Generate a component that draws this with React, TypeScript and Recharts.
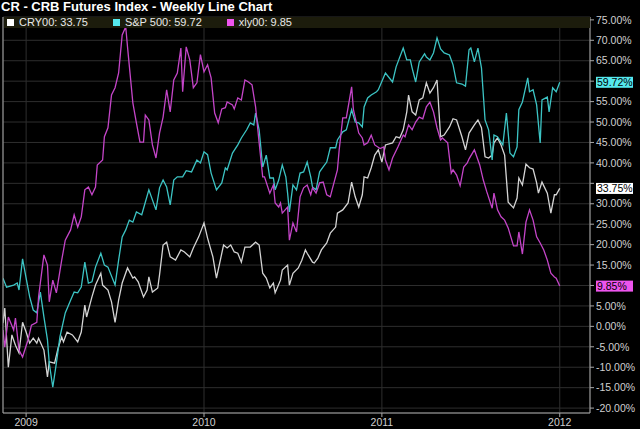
import { CartesianGrid, Line, LineChart, ReferenceLine, XAxis, YAxis } from "recharts";

const chartTitle = "CR - CRB Futures Index - Weekly Line Chart";

// [year fraction, % change]
const cryPoints: [number, number][] = [
  [2008.87, 0.8], [2008.88, 4.5], [2008.9, -10], [2008.92, -2.1], [2008.94, -4.6], [2008.96, -6.5],
  [2008.98, 1.0], [2009.0, -1.4], [2009.02, -4.1], [2009.04, -2.9], [2009.06, -4.1], [2009.07, -2.9],
  [2009.1, -5.8], [2009.12, -12.4], [2009.13, -8.7], [2009.16, -9.0], [2009.18, -5.3], [2009.2, -2.6],
  [2009.21, -3.8], [2009.23, -1.4], [2009.26, -2.1], [2009.29, -3.8], [2009.31, -1.4], [2009.33, 5.2],
  [2009.34, 2.3], [2009.37, 7.2], [2009.39, 10.1], [2009.42, 13.0], [2009.43, 10.1], [2009.46, 8.9],
  [2009.48, 6.0], [2009.5, 1.0], [2009.52, 6.4], [2009.54, 10.6], [2009.57, 14.3], [2009.6, 11.8],
  [2009.61, 12.1], [2009.63, 10.9], [2009.66, 7.2], [2009.68, 8.9], [2009.69, 12.1], [2009.71, 8.4],
  [2009.74, 9.4], [2009.75, 12.6], [2009.77, 19.9], [2009.79, 20.6], [2009.81, 17.0], [2009.84, 16.2],
  [2009.87, 18.7], [2009.89, 18.2], [2009.92, 17.0], [2009.94, 19.2], [2009.97, 21.9], [2010.0, 25.3],
  [2010.02, 21.6], [2010.05, 17.0], [2010.07, 11.8], [2010.11, 19.9], [2010.13, 19.2], [2010.15, 19.9],
  [2010.17, 18.2], [2010.19, 17.9], [2010.21, 15.7], [2010.23, 19.4], [2010.26, 19.4], [2010.29, 20.6],
  [2010.31, 19.9], [2010.33, 13.0], [2010.35, 11.8], [2010.37, 9.4], [2010.39, 10.6], [2010.4, 8.2],
  [2010.43, 11.3], [2010.44, 13.8], [2010.47, 15.0], [2010.48, 10.1], [2010.5, 13.0], [2010.53, 14.3],
  [2010.55, 16.2], [2010.57, 18.7], [2010.58, 17.9], [2010.61, 15.7], [2010.62, 15.5], [2010.64, 16.7],
  [2010.66, 18.7], [2010.69, 20.4], [2010.71, 22.8], [2010.74, 24.3], [2010.75, 27.7], [2010.78, 28.5],
  [2010.81, 30.2], [2010.83, 35.3], [2010.85, 31.7], [2010.87, 29.2], [2010.89, 32.2], [2010.9, 36.6],
  [2010.92, 36.3], [2010.94, 38.8], [2010.96, 41.9], [2010.98, 43.2], [2011.0, 40.2], [2011.02, 44.4],
  [2011.06, 44.9], [2011.08, 46.4], [2011.1, 46.1], [2011.12, 48.1], [2011.14, 52.5], [2011.15, 56.6],
  [2011.17, 52.5], [2011.19, 51.7], [2011.21, 55.4], [2011.23, 55.9], [2011.25, 59.6], [2011.27, 57.1],
  [2011.29, 58.4], [2011.31, 60.3], [2011.33, 46.4], [2011.35, 46.8], [2011.38, 48.8], [2011.4, 50.8],
  [2011.42, 50.5], [2011.45, 46.4], [2011.47, 43.2], [2011.49, 47.3], [2011.52, 49.3], [2011.54, 50.5],
  [2011.56, 48.6], [2011.58, 41.5], [2011.6, 41.2], [2011.62, 41.9], [2011.63, 44.9], [2011.65, 46.1],
  [2011.67, 44.4], [2011.69, 41.9], [2011.71, 30.4], [2011.74, 29.0], [2011.76, 31.4], [2011.77, 36.3],
  [2011.79, 34.6], [2011.81, 39.7], [2011.83, 38.8], [2011.85, 38.5], [2011.87, 35.1], [2011.88, 32.6],
  [2011.9, 35.3], [2011.93, 32.6], [2011.95, 27.7], [2011.97, 32.2], [2011.98, 32.2], [2012.0, 33.75],
];

const spxPoints: [number, number][] = [
  [2008.87, 11.8], [2008.89, 9.6], [2008.93, 10.1], [2008.95, 10.6], [2008.96, 8.9], [2008.98, 16.5],
  [2009.0, 11.8], [2009.02, 7.2], [2009.04, 4.0], [2009.06, 3.3], [2009.08, 8.4], [2009.1, 2.3],
  [2009.12, -3.3], [2009.13, -9.0], [2009.15, -14.9], [2009.17, -9.0], [2009.19, -2.6], [2009.22, 3.3],
  [2009.25, 6.4], [2009.27, 8.4], [2009.29, 8.2], [2009.31, 9.6], [2009.33, 15.7], [2009.35, 10.6],
  [2009.37, 10.9], [2009.39, 14.5], [2009.42, 17.9], [2009.44, 15.0], [2009.46, 14.5], [2009.5, 10.1],
  [2009.52, 16.2], [2009.54, 21.9], [2009.56, 23.6], [2009.58, 26.0], [2009.6, 25.5], [2009.62, 28.0],
  [2009.65, 27.3], [2009.69, 33.4], [2009.73, 28.5], [2009.75, 33.9], [2009.77, 35.8], [2009.79, 34.1],
  [2009.81, 29.7], [2009.83, 35.8], [2009.85, 36.6], [2009.88, 36.6], [2009.9, 38.1], [2009.93, 37.8],
  [2009.96, 40.7], [2009.98, 40.0], [2010.0, 42.7], [2010.02, 42.0], [2010.04, 37.5], [2010.07, 33.4],
  [2010.1, 35.1], [2010.12, 38.8], [2010.13, 38.3], [2010.16, 42.4], [2010.19, 44.4], [2010.21, 46.1],
  [2010.24, 48.1], [2010.26, 49.8], [2010.28, 49.3], [2010.29, 52.2], [2010.31, 48.1], [2010.33, 39.0],
  [2010.35, 41.9], [2010.37, 36.3], [2010.39, 36.3], [2010.4, 33.4], [2010.42, 35.8], [2010.44, 39.5],
  [2010.46, 36.6], [2010.47, 32.6], [2010.48, 28.0], [2010.5, 34.6], [2010.52, 33.4], [2010.54, 37.5],
  [2010.56, 37.8], [2010.58, 40.2], [2010.6, 36.6], [2010.61, 34.1], [2010.63, 33.4], [2010.65, 37.8],
  [2010.67, 39.0], [2010.69, 40.2], [2010.71, 43.7], [2010.74, 43.7], [2010.75, 45.6], [2010.78, 47.6],
  [2010.8, 48.1], [2010.83, 53.0], [2010.85, 50.0], [2010.87, 49.8], [2010.89, 48.8], [2010.9, 53.7],
  [2010.92, 55.9], [2010.94, 56.6], [2010.97, 57.4], [2010.98, 57.9], [2011.02, 62.0], [2011.06, 59.8],
  [2011.08, 63.5], [2011.12, 68.1], [2011.14, 65.2], [2011.16, 65.2], [2011.17, 63.2], [2011.19, 59.8],
  [2011.21, 64.7], [2011.24, 66.7], [2011.25, 65.9], [2011.27, 65.2], [2011.29, 66.9], [2011.31, 70.6],
  [2011.33, 67.9], [2011.35, 66.9], [2011.38, 66.4], [2011.4, 64.0], [2011.42, 59.6], [2011.45, 59.3],
  [2011.47, 58.8], [2011.49, 67.7], [2011.5, 68.1], [2011.52, 64.7], [2011.54, 68.1], [2011.56, 63.2],
  [2011.58, 50.5], [2011.6, 48.1], [2011.62, 40.7], [2011.63, 46.8], [2011.65, 46.4], [2011.68, 44.4],
  [2011.7, 52.2], [2011.72, 42.4], [2011.74, 41.5], [2011.76, 43.9], [2011.77, 53.0], [2011.79, 54.9],
  [2011.82, 60.8], [2011.83, 57.4], [2011.85, 57.9], [2011.87, 54.2], [2011.89, 44.9], [2011.9, 55.4],
  [2011.93, 56.1], [2011.94, 52.5], [2011.96, 58.4], [2011.98, 57.4], [2012.0, 59.72],
];

const xlyPoints: [number, number][] = [
  [2008.87, -0.9], [2008.88, -5.1], [2008.9, 2.3], [2008.93, -0.9], [2008.94, 2.0], [2008.96, -5.8],
  [2008.98, -7.5], [2009.01, -3.4], [2009.03, 0.3], [2009.06, 1.0], [2009.07, 7.2], [2009.1, 17.5],
  [2009.12, 15.0], [2009.13, 6.0], [2009.15, 11.3], [2009.17, 8.2], [2009.2, 16.2], [2009.22, 21.1],
  [2009.25, 23.6], [2009.27, 27.3], [2009.29, 24.3], [2009.31, 26.8], [2009.33, 33.4], [2009.35, 34.1],
  [2009.37, 32.2], [2009.39, 34.1], [2009.4, 39.5], [2009.43, 40.7], [2009.44, 46.4], [2009.46, 48.6],
  [2009.48, 56.6], [2009.5, 58.4], [2009.52, 62.0], [2009.54, 71.3], [2009.56, 73.3], [2009.57, 68.4],
  [2009.6, 54.7], [2009.62, 49.8], [2009.64, 45.1], [2009.66, 45.1], [2009.67, 51.7], [2009.69, 50.5],
  [2009.71, 44.4], [2009.73, 41.2], [2009.75, 47.3], [2009.77, 51.2], [2009.79, 57.9], [2009.81, 52.5],
  [2009.83, 60.3], [2009.85, 62.0], [2009.87, 68.1], [2009.88, 57.4], [2009.9, 68.4], [2009.92, 65.2],
  [2009.94, 58.4], [2009.96, 59.6], [2009.98, 66.5], [2010.0, 62.3], [2010.02, 64.0], [2010.04, 60.8],
  [2010.06, 52.2], [2010.08, 49.8], [2010.1, 53.2], [2010.12, 53.5], [2010.13, 54.9], [2010.16, 54.2],
  [2010.17, 53.2], [2010.19, 55.9], [2010.21, 55.4], [2010.23, 60.3], [2010.25, 59.8], [2010.27, 59.1],
  [2010.29, 53.7], [2010.31, 44.9], [2010.33, 36.6], [2010.34, 36.6], [2010.37, 32.6], [2010.39, 34.6],
  [2010.4, 30.2], [2010.42, 29.2], [2010.43, 30.2], [2010.44, 27.7], [2010.47, 29.2], [2010.48, 21.1],
  [2010.5, 25.3], [2010.52, 23.1], [2010.54, 31.7], [2010.56, 33.9], [2010.58, 34.6], [2010.6, 32.2],
  [2010.61, 33.9], [2010.63, 32.6], [2010.65, 35.1], [2010.67, 35.3], [2010.69, 32.2], [2010.71, 31.7],
  [2010.72, 33.4], [2010.75, 38.3], [2010.76, 43.2], [2010.78, 51.0], [2010.8, 51.0], [2010.83, 58.6],
  [2010.84, 53.0], [2010.87, 47.3], [2010.89, 46.1], [2010.9, 44.4], [2010.92, 44.9], [2010.94, 46.8],
  [2010.96, 44.4], [2010.99, 43.5], [2011.01, 43.9], [2011.02, 40.7], [2011.04, 38.3], [2011.06, 41.2],
  [2011.09, 43.9], [2011.12, 46.8], [2011.13, 46.4], [2011.15, 49.3], [2011.17, 48.1], [2011.19, 50.0],
  [2011.21, 51.2], [2011.23, 50.8], [2011.25, 53.7], [2011.27, 54.9], [2011.29, 52.5], [2011.31, 48.6],
  [2011.33, 45.6], [2011.34, 46.1], [2011.37, 44.9], [2011.39, 37.5], [2011.4, 38.3], [2011.42, 37.0],
  [2011.44, 34.4], [2011.46, 39.0], [2011.48, 40.0], [2011.49, 41.0], [2011.52, 43.2], [2011.55, 39.5],
  [2011.57, 35.8], [2011.59, 32.9], [2011.62, 28.9], [2011.63, 32.6], [2011.65, 28.5], [2011.67, 26.8],
  [2011.69, 26.0], [2011.71, 24.1], [2011.74, 19.7], [2011.76, 19.7], [2011.77, 23.1], [2011.79, 17.7],
  [2011.81, 25.5], [2011.83, 28.5], [2011.85, 26.0], [2011.87, 21.9], [2011.89, 20.4], [2011.91, 18.7],
  [2011.93, 16.2], [2011.95, 13.0], [2011.97, 12.1], [2011.98, 11.8], [2012.0, 9.85],
];

const yTicks = [-20, -15, -10, -5, 0, 5, 10, 15, 20, 25, 30, 35, 40, 45, 50, 55, 60, 65, 70, 75];
const yearTicks = [2009, 2010, 2011, 2012];

const series = [
  { name: "CRY00", points: cryPoints, line: "#d4d4d4", swatch: "#ffffff" },
  { name: "S&P 500", points: spxPoints, line: "#3cc4c4", swatch: "#55e8ee" },
  { name: "xly00", points: xlyPoints, line: "#c445c8", swatch: "#ee55ee" },
];

const lastValues = series.map((s) => s.points[s.points.length - 1][1]);

const font = "'Liberation Sans', Arial, sans-serif";
const axisColor = "#a8a8a8";
const tickText = { fill: "#d0d0d0", fontSize: 10.5, fontFamily: font };

// right-axis labels that sit under a value tag are hidden, as in the original
function RightTick({ x, y, payload }: any) {
  const hidden = lastValues.some((v) => Math.abs(v - payload.value) < 2.6);
  if (hidden) return null;
  return (
    <text x={x} y={y} dy="0.355em" textAnchor="start" {...tickText}>
      {`${payload.value.toFixed(2)}%`}
    </text>
  );
}

function EndTag({ viewBox, color, text }: any) {
  if (!viewBox) return null;
  const x = viewBox.x + viewBox.width + 6;
  const y = viewBox.y;
  return (
    <g>
      <rect x={x} y={y - 5.5} width={37} height={11} fill={color} />
      <text x={x + 1} y={y + 4} fontSize={10.5} fontFamily={font} fill="#000">
        {text}
      </text>
    </g>
  );
}

export default function App() {
  return (
    <div
      style={{
        position: "fixed",
        left: 0,
        top: 0,
        width: 640,
        height: 429,
        background: "#000",
        overflow: "hidden",
      }}
    >
      <LineChart width={640} height={429} margin={{ top: 17, right: 0, bottom: 0, left: 2 }}>
        <CartesianGrid stroke="#2e2e2e" strokeWidth={1} yAxisId="right" />
        <XAxis
          dataKey="t"
          type="number"
          domain={[2008.87, 2012.17]}
          ticks={yearTicks}
          allowDataOverflow
          tickFormatter={(v) => String(v)}
          stroke={axisColor}
          tickSize={4}
          height={16}
          tick={tickText}
          interval={0}
        />
        <YAxis yAxisId="left" orientation="left" width={1} domain={[-21.2, 75.7]} tick={false} stroke={axisColor} />
        <YAxis
          yAxisId="right"
          orientation="right"
          width={50}
          domain={[-21.2, 75.7]}
          allowDataOverflow
          ticks={yTicks}
          interval={0}
          stroke={axisColor}
          tickSize={4}
          tick={<RightTick />}
        />
        {series.map((s) => (
          <Line
            key={s.name}
            yAxisId="right"
            data={s.points.map(([t, v]) => ({ t, v }))}
            dataKey="v"
            stroke={s.line}
            strokeWidth={1.3}
            dot={false}
            activeDot={false}
            isAnimationActive={false}
          />
        ))}
        {series.map((s, i) => (
          <ReferenceLine
            key={s.name + "-tag"}
            yAxisId="right"
            y={lastValues[i]}
            stroke="none"
            label={(p: any) => <EndTag viewBox={p.viewBox} color={s.swatch} text={`${lastValues[i].toFixed(2)}%`} />}
          />
        ))}
      </LineChart>

      <div
        style={{
          position: "absolute",
          left: 1,
          top: 0,
          color: "#fff",
          fontFamily: font,
          fontWeight: "bold",
          fontSize: 13,
          lineHeight: "13px",
          whiteSpace: "nowrap",
        }}
      >
        {chartTitle}
      </div>

      <div
        style={{
          position: "absolute",
          left: 4,
          top: 17,
          width: 586,
          height: 11,
          background: "#1c1c0c",
          display: "flex",
          alignItems: "center",
          fontFamily: font,
          fontSize: 11,
          color: "#e8e8e8",
        }}
      >
        {series.map((s, i) => (
          <div key={s.name} style={{ display: "flex", alignItems: "center", marginLeft: 3, marginRight: 22 }}>
            <span style={{ width: 7, height: 7, background: s.swatch, marginRight: 5 }} />
            <span style={{ lineHeight: "11px" }}>{`${s.name}: ${lastValues[i]}`}</span>
          </div>
        ))}
      </div>
    </div>
  );
}
